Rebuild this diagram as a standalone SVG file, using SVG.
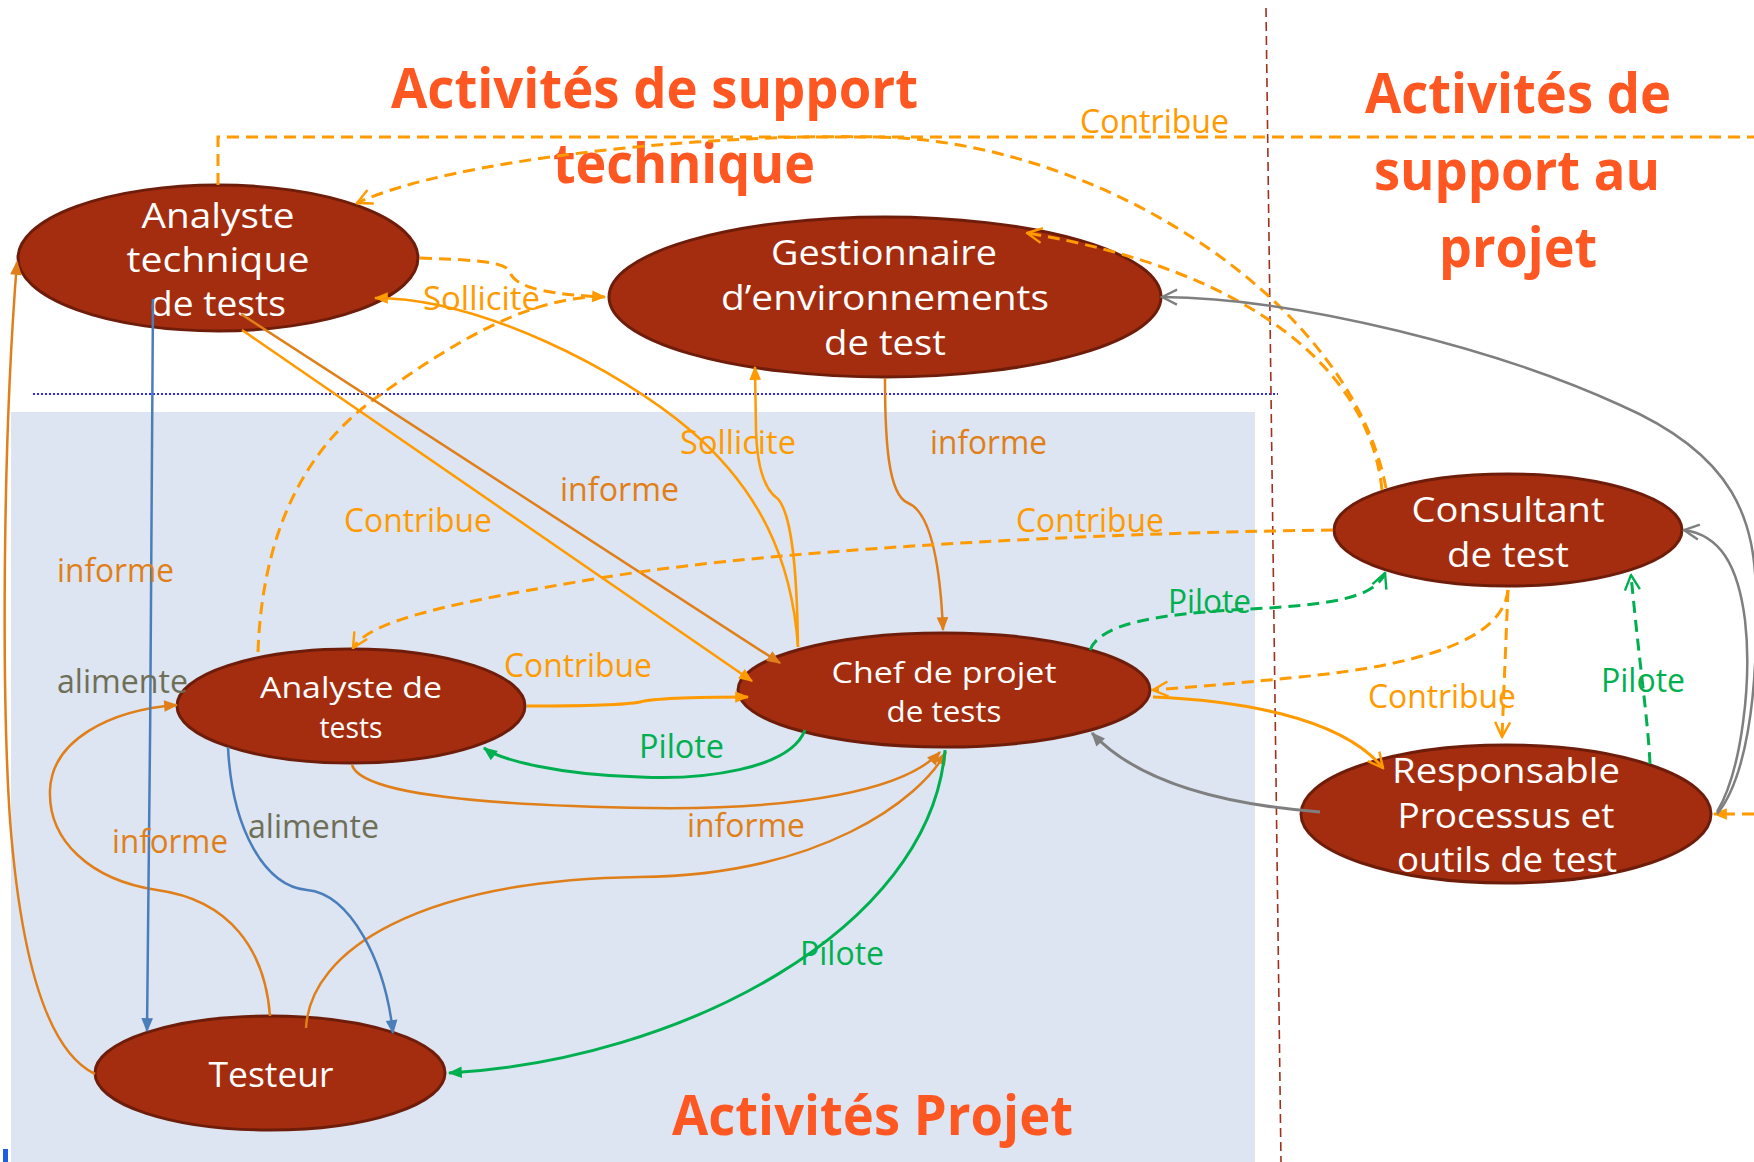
<svg xmlns="http://www.w3.org/2000/svg" width="1754" height="1162" viewBox="0 0 1754 1162">
<defs>
<style>
.node ellipse{fill:#A52D0F;stroke:#6E1D0B;stroke-width:3}
.node text{fill:#ffffff;font-family:"Open Sans","Liberation Sans",sans-serif;text-anchor:middle}
.big{font-size:35px}
.small{font-size:30px}
.title{fill:#FE5722;font-family:"Open Sans","Liberation Sans",sans-serif;font-weight:bold;font-size:56px}
.lbl{font-family:"Open Sans","Liberation Sans",sans-serif;font-size:32px}
.lo{fill:#FF9A00}
.do{fill:#E07F1A}
.gr{fill:#00B050}
.ol{fill:#6F6F58}
.c{fill:none;stroke-width:2.5}
.slo{stroke:#FF9A00}
.sdo{stroke:#E07F1A}
.sgr{stroke:#00B050}
.sbl{stroke:#4A7EBB}
.sgy{stroke:#7F7F7F}
.dash{stroke-dasharray:12 7;stroke-width:3}
</style>
<marker id="fLO" viewBox="0 0 12 12" refX="11" refY="6" markerWidth="15" markerHeight="14" markerUnits="userSpaceOnUse" orient="auto"><path d="M0,1 L12,6 L0,11 z" fill="#FF9A00"/></marker>
<marker id="fDO" viewBox="0 0 12 12" refX="11" refY="6" markerWidth="15" markerHeight="14" markerUnits="userSpaceOnUse" orient="auto"><path d="M0,1 L12,6 L0,11 z" fill="#E07F1A"/></marker>
<marker id="fGR" viewBox="0 0 12 12" refX="11" refY="6" markerWidth="15" markerHeight="14" markerUnits="userSpaceOnUse" orient="auto"><path d="M0,1 L12,6 L0,11 z" fill="#00B050"/></marker>
<marker id="fBL" viewBox="0 0 12 12" refX="11" refY="6" markerWidth="15" markerHeight="14" markerUnits="userSpaceOnUse" orient="auto"><path d="M0,1 L12,6 L0,11 z" fill="#4A7EBB"/></marker>
<marker id="fGY" viewBox="0 0 12 12" refX="11" refY="6" markerWidth="15" markerHeight="14" markerUnits="userSpaceOnUse" orient="auto"><path d="M0,1 L12,6 L0,11 z" fill="#7F7F7F"/></marker>
<marker id="oLO" viewBox="0 0 12 12" refX="11" refY="6" markerWidth="18" markerHeight="18" markerUnits="userSpaceOnUse" orient="auto"><path d="M1,1 L11,6 L1,11" fill="none" stroke="#FF9A00" stroke-width="1.6"/></marker>
<marker id="oGR" viewBox="0 0 12 12" refX="11" refY="6" markerWidth="18" markerHeight="18" markerUnits="userSpaceOnUse" orient="auto"><path d="M1,1 L11,6 L1,11" fill="none" stroke="#00B050" stroke-width="1.6"/></marker>
<marker id="oGY" viewBox="0 0 12 12" refX="11" refY="6" markerWidth="18" markerHeight="18" markerUnits="userSpaceOnUse" orient="auto"><path d="M1,1 L11,6 L1,11" fill="none" stroke="#7F7F7F" stroke-width="1.6"/></marker>
</defs>

<g id="background">
<rect x="0" y="0" width="1754" height="1162" fill="#ffffff"/>
<rect x="11" y="412" width="1244" height="750" fill="#DCE5F1"/>
<path d="M33,394 H1278" stroke="#2B2BFF" stroke-width="2" stroke-dasharray="2 2" fill="none"/>
<path d="M1266,8 L1281,1162" stroke="#A0301C" stroke-width="1.6" stroke-dasharray="9 5" fill="none"/>
<rect x="3" y="1149" width="5" height="13" fill="#1E5FE0"/>
</g>

<g id="titles">
<text class="title" x="391" y="108" textLength="527" lengthAdjust="spacingAndGlyphs">Activités de support</text>
<text class="title" x="553" y="183" textLength="262" lengthAdjust="spacingAndGlyphs">technique</text>
<text class="title" x="1365" y="113" textLength="306" lengthAdjust="spacingAndGlyphs">Activités de</text>
<text class="title" x="1374" y="190" textLength="286" lengthAdjust="spacingAndGlyphs">support au</text>
<text class="title" x="1439" y="267" textLength="158" lengthAdjust="spacingAndGlyphs">projet</text>
<text class="title" x="672" y="1135" textLength="401" lengthAdjust="spacingAndGlyphs">Activités Projet</text>
</g>

<g id="n-analyste-technique" class="node">
<ellipse cx="218" cy="258" rx="200" ry="73"/>
<text class="big" x="218" y="228" textLength="153" lengthAdjust="spacingAndGlyphs">Analyste</text>
<text class="big" x="218" y="272" textLength="183" lengthAdjust="spacingAndGlyphs">technique</text>
<text class="big" x="218" y="316" textLength="136" lengthAdjust="spacingAndGlyphs">de tests</text>
</g>
<g id="n-gestionnaire" class="node">
<ellipse cx="885" cy="297" rx="276" ry="80"/>
<text class="big" x="884" y="265" textLength="226" lengthAdjust="spacingAndGlyphs">Gestionnaire</text>
<text class="big" x="885" y="310" textLength="328" lengthAdjust="spacingAndGlyphs">d’environnements</text>
<text class="big" x="885" y="355" textLength="122" lengthAdjust="spacingAndGlyphs">de test</text>
</g>
<g id="n-analyste-tests" class="node">
<ellipse cx="351" cy="706" rx="174" ry="57"/>
<text class="small" x="351" y="698" textLength="182" lengthAdjust="spacingAndGlyphs">Analyste de</text>
<text class="small" x="351" y="738" textLength="63" lengthAdjust="spacingAndGlyphs">tests</text>
</g>
<g id="n-chef" class="node">
<ellipse cx="944" cy="690" rx="206" ry="57"/>
<text class="small" x="944" y="683" textLength="225" lengthAdjust="spacingAndGlyphs">Chef de projet</text>
<text class="small" x="944" y="722" textLength="115" lengthAdjust="spacingAndGlyphs">de tests</text>
</g>
<g id="n-consultant" class="node">
<ellipse cx="1508" cy="530" rx="174" ry="56"/>
<text class="big" x="1508" y="522" textLength="193" lengthAdjust="spacingAndGlyphs">Consultant</text>
<text class="big" x="1508" y="567" textLength="122" lengthAdjust="spacingAndGlyphs">de test</text>
</g>
<g id="n-responsable" class="node">
<ellipse cx="1506" cy="814" rx="205" ry="69"/>
<text class="big" x="1506" y="783" textLength="228" lengthAdjust="spacingAndGlyphs">Responsable</text>
<text class="big" x="1506" y="828" textLength="217" lengthAdjust="spacingAndGlyphs">Processus et</text>
<text class="big" x="1507" y="872" textLength="220" lengthAdjust="spacingAndGlyphs">outils de test</text>
</g>
<g id="n-testeur" class="node">
<ellipse cx="270" cy="1073" rx="175" ry="57"/>
<text class="big" x="271" y="1087" textLength="125" lengthAdjust="spacingAndGlyphs">Testeur</text>
</g>

<g id="connectors">
<!-- Contribue: Analyste technique -> Responsable (via top) -->
<path class="c slo dash" d="M218,185 V137 H1754"/>
<path class="c slo dash" d="M1754,814 H1714" marker-end="url(#fLO)"/>
<!-- Consultant -> Analyste technique -->
<path class="c slo dash" d="M1386,488 C1350,300 1100,142 880,137 C700,133 450,160 357,203" marker-end="url(#oLO)"/>
<!-- Consultant -> Gestionnaire -->
<path class="c slo dash" d="M1382,490 C1370,370 1250,270 1027,233" marker-end="url(#oLO)"/>
<!-- Sollicite: Analyste technique -> Gestionnaire -->
<path class="c slo dash" d="M420,258 C480,260 505,262 510,272 C515,290 560,295 605,297" marker-end="url(#fLO)"/>
<!-- Contribue: Analyste de tests -> Gestionnaire -->
<path class="c slo dash" d="M258,652 C262,540 300,450 380,395 C450,345 520,302 590,297"/>
<!-- Sollicite: Chef -> Analyste technique -->
<path class="c slo" d="M798,647 C792,560 760,490 690,430 C620,370 480,298 375,298" marker-end="url(#fLO)"/>
<!-- Sollicite: Chef -> Gestionnaire -->
<path class="c slo" d="M798,647 C797,570 792,515 778,499 C765,490 757,470 756,430 L755,367" marker-end="url(#fLO)"/>
<!-- informe: Gestionnaire -> Chef -->
<path class="c sdo" d="M885,378 C885,440 888,495 908,503 C930,512 940,560 943,630" marker-end="url(#fDO)"/>
<!-- informe: Analyste technique -> Chef -->
<path class="c sdo" d="M241,314 L780,663" marker-end="url(#fDO)"/>
<path class="c slo" d="M242,330 L752,681" marker-end="url(#fLO)"/>
<!-- Contribue: Consultant -> Analyste de tests -->
<path class="c slo dash" d="M1333,530 C1150,532 800,545 600,578 C450,603 370,620 353,648" marker-end="url(#oLO)"/>
<!-- Contribue: Analyste de tests -> Chef -->
<path class="c slo" style="stroke-width:3" d="M527,706 C580,706 625,705 640,702 C655,698 700,697 748,697" marker-end="url(#fLO)"/>
<!-- Pilote: Chef -> Analyste de tests -->
<path class="c sgr" style="stroke-width:3" d="M805,730 C790,770 700,780 640,777 C560,775 500,760 484,748" marker-end="url(#fGR)"/>
<!-- informe: Analyste de tests -> Chef -->
<path class="c sdo" d="M352,765 C360,790 450,805 650,808 C800,810 905,790 940,752" marker-end="url(#fDO)"/>
<!-- informe: Testeur -> Chef -->
<path class="c sdo" d="M306,1028 C310,950 420,880 640,877 C820,875 920,800 946,752" marker-end="url(#fDO)"/>
<!-- Pilote: Chef -> Testeur -->
<path class="c sgr" style="stroke-width:3" d="M945,750 C930,930 680,1060 449,1073" marker-end="url(#fGR)"/>
<!-- informe: Testeur -> Analyste de tests -->
<path class="c sdo" d="M270,1016 C265,950 230,900 157,890 C90,880 48,840 50,790 C52,740 110,710 177,705" marker-end="url(#fDO)"/>
<!-- alimente: Analyste technique -> Testeur -->
<path class="c sbl" d="M153,299 C152,500 150,800 147,1031" marker-end="url(#fBL)"/>
<!-- informe: Testeur -> Analyste technique -->
<path class="c sdo" d="M95,1074 C45,1050 20,950 10,820 C2,700 2,450 17,262" marker-end="url(#fDO)"/>
<!-- alimente: Analyste de tests -> Testeur -->
<path class="c sbl" d="M228,747 C232,830 265,886 307,890 C350,894 385,960 393,1033" marker-end="url(#fBL)"/>
<!-- Pilote: Chef -> Consultant -->
<path class="c sgr dash" d="M1090,650 C1100,625 1150,614 1250,609 C1330,605 1375,598 1385,573" marker-end="url(#oGR)"/>
<!-- Contribue: Consultant -> Chef -->
<path class="c slo dash" d="M1508,590 C1503,640 1420,665 1300,677 C1230,684 1180,688 1153,690" marker-end="url(#oLO)"/>
<!-- Contribue: Consultant -> Responsable -->
<path class="c slo dash" d="M1508,590 L1502,737" marker-end="url(#oLO)"/>
<!-- Pilote: Responsable -> Consultant -->
<path class="c sgr dash" d="M1650,764 C1648,720 1640,670 1631,575" marker-end="url(#oGR)"/>
<!-- Chef -> Responsable -->
<path class="c slo" style="stroke-width:3" d="M1153,697 C1230,700 1340,715 1383,768" marker-end="url(#oLO)"/>
<!-- Responsable -> Chef -->
<path class="c sgy" style="stroke-width:3" d="M1320,812 C1230,805 1140,785 1092,733" marker-end="url(#fGY)"/>
<!-- Responsable -> Gestionnaire -->
<path class="c sgy" d="M1717,814 C1745,780 1758,700 1756,600 C1756,520 1735,455 1620,405 C1500,350 1300,298 1162,297" marker-end="url(#oGY)"/>
<!-- Responsable -> Consultant -->
<path class="c sgy" d="M1717,812 C1742,770 1752,680 1745,620 C1738,565 1720,535 1684,530" marker-end="url(#oGY)"/>
</g>

<g id="labels">
<text class="lbl lo" x="1080" y="133" textLength="149" lengthAdjust="spacingAndGlyphs">Contribue</text>
<text class="lbl lo" x="423" y="310" textLength="117" lengthAdjust="spacingAndGlyphs">Sollicite</text>
<text class="lbl lo" x="680" y="454" textLength="116" lengthAdjust="spacingAndGlyphs">Sollicite</text>
<text class="lbl do" x="930" y="454" textLength="117" lengthAdjust="spacingAndGlyphs">informe</text>
<text class="lbl do" x="560" y="501" textLength="119" lengthAdjust="spacingAndGlyphs">informe</text>
<text class="lbl lo" x="344" y="532" textLength="148" lengthAdjust="spacingAndGlyphs">Contribue</text>
<text class="lbl lo" x="1016" y="532" textLength="148" lengthAdjust="spacingAndGlyphs">Contribue</text>
<text class="lbl do" x="57" y="582" textLength="117" lengthAdjust="spacingAndGlyphs">informe</text>
<text class="lbl ol" x="57" y="693" textLength="131" lengthAdjust="spacingAndGlyphs">alimente</text>
<text class="lbl lo" x="504" y="677" textLength="148" lengthAdjust="spacingAndGlyphs">Contribue</text>
<text class="lbl gr" x="639" y="758" textLength="85" lengthAdjust="spacingAndGlyphs">Pilote</text>
<text class="lbl gr" x="1168" y="613" textLength="83" lengthAdjust="spacingAndGlyphs">Pilote</text>
<text class="lbl lo" x="1368" y="708" textLength="148" lengthAdjust="spacingAndGlyphs">Contribue</text>
<text class="lbl gr" x="1601" y="692" textLength="84" lengthAdjust="spacingAndGlyphs">Pilote</text>
<text class="lbl do" x="687" y="837" textLength="118" lengthAdjust="spacingAndGlyphs">informe</text>
<text class="lbl ol" x="248" y="838" textLength="131" lengthAdjust="spacingAndGlyphs">alimente</text>
<text class="lbl do" x="112" y="853" textLength="116" lengthAdjust="spacingAndGlyphs">informe</text>
<text class="lbl gr" x="800" y="965" textLength="84" lengthAdjust="spacingAndGlyphs">Pilote</text>
</g>
</svg>
